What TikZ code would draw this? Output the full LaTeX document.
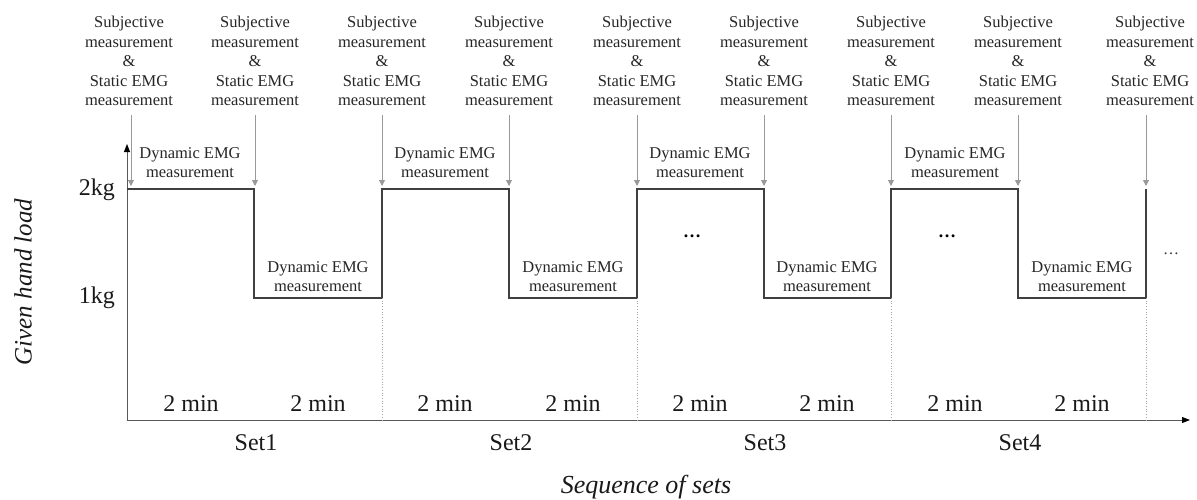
\documentclass[tikz,border=0pt]{standalone}
\usepackage{fontspec}
\setmainfont{Liberation Serif}
\usetikzlibrary{arrows.meta}
\begin{document}
\begin{tikzpicture}[x=1pt,y=-1pt,
  toplab/.style={align=center,font=\fontsize{16.5}{19.5}\selectfont,inner sep=0pt,anchor=south,text=black!85},
  dynlab/.style={align=center,font=\fontsize{16.5}{19.5}\selectfont,inner sep=0pt,anchor=south,text=black!85},
  big/.style={font=\fontsize{24}{28}\selectfont,inner sep=0pt,anchor=base,text=black!90},
  garrow/.style={draw=black!40,line width=0.9pt,-{Triangle[width=6pt,length=6pt]}},
  wave/.style={draw=black!75,line width=1.6pt,line join=miter},
  axisline/.style={draw=black!65,line width=0.9pt,-{Triangle[width=6pt,length=8pt,color=black]}},
  guide/.style={draw=black!35,dotted,line width=0.7pt},
  dotsbig/.style={font=\fontsize{18}{20}\selectfont\bfseries,inner sep=0pt},
  dotssmall/.style={font=\fontsize{16}{20}\selectfont,inner sep=0pt,text=black!80}]

\useasboundingbox (0,0) rectangle (1197,499);

% axes
\coordinate (O) at (127,420);
\coordinate (Ytop) at (127,144);
\coordinate (Xend) at (1190,420);
\draw[axisline] (O) -- (Ytop);
\draw[axisline] (O) -- (Xend);

% boundary coordinates: high (2kg), low (1kg), and base on x-axis
\foreach \i/\x in {1/127,2/254,3/382,4/509,5/637,6/764,7/891,8/1018,9/1146}{
  \coordinate (h\i) at (\x,189);
  \coordinate (l\i) at (\x,298);
  \coordinate (g\i) at (\x,420);
}

% square wave
\draw[wave] (h1) -- (h2) -- (l2) -- (l3) -- (h3) -- (h4) -- (l4) -- (l5) -- (h5)
  -- (h6) -- (l6) -- (l7) -- (h7) -- (h8) -- (l8) -- (l9) -- (h9);

% dotted guides
\foreach \i in {3,5,7,9}{
  \draw[guide] (l\i) -- (g\i);
}

% top labels and arrows
\foreach \i/\x/\ax in {1/129/131,2/255/255,3/382/382,4/509/509,5/637/637,6/764/764,7/891/891,8/1018/1018,9/1150/1146}{
  \node[toplab] (top\i) at (\x,106) {Subjective\\measurement\\\&\\Static EMG\\measurement};
  \coordinate (as\i) at (\ax,115);
  \coordinate (ae\i) at (\ax,186);
  \draw[garrow] (as\i) -- (ae\i);
}

% dynamic EMG labels (high)
\foreach \i/\x in {1/190,2/445,3/700,4/955}{
  \node[dynlab] (dh\i) at (\x,178) {Dynamic EMG\\measurement};
}
% dynamic EMG labels (low)
\foreach \i/\x in {1/318,2/573,3/827,4/1082}{
  \node[dynlab] (dl\i) at (\x,292) {Dynamic EMG\\measurement};
}

% ellipses
\node[dotsbig] (dots1) at (692,236) {…};
\node[dotsbig] (dots2) at (947,236) {…};
\node[dotssmall] (dots3) at (1171,254) {…};

% y-axis values
\node[big,anchor=base east] (kg2) at (115,195) {2kg};
\node[big,anchor=base east] (kg1) at (115,303) {1kg};

% 2 min labels
\foreach \i/\x in {1/191,2/318,3/445,4/573,5/700,6/827,7/955,8/1082}{
  \node[big] (min\i) at (\x,411) {2 min};
}
% set labels
\foreach \i/\x in {1/256,2/511,3/765,4/1020}{
  \node[big] (set\i) at (\x,450) {Set\i};
}

% axis titles
\node[big,anchor=center,rotate=90,font=\fontsize{25}{28}\selectfont\itshape] (ylab) at (23,282) {Given hand load};
\node[big,font=\fontsize{26}{28}\selectfont\itshape] (xlab) at (646,493) {Sequence of sets};
\end{tikzpicture}
\end{document}
